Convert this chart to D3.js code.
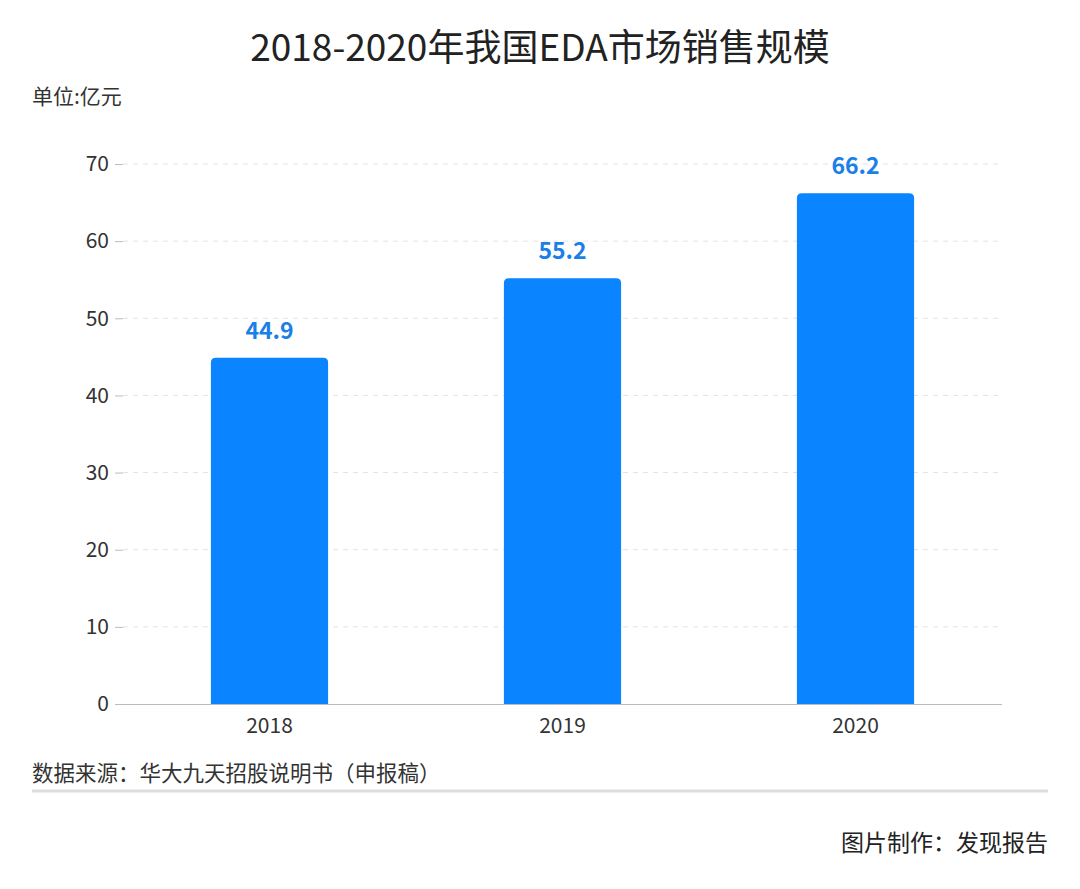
<!DOCTYPE html>
<html><head><meta charset="utf-8">
<script src="https://cdn.jsdelivr.net/npm/d3@7"></script>
<style>body{margin:0;background:#fff;font-family:"Noto Sans CJK SC","Noto Sans",sans-serif;}</style>
</head><body>
<svg id="c" width="1080" height="889"></svg>
<script>
var years = ["2018", "2019", "2020"];
var sales = [44.9, 55.2, 66.2];
var yTicks = [0, 10, 20, 30, 40, 50, 60, 70];

var svg = d3.select("#c");
var x = d3.scaleBand().domain(years).range([123, 1002]).paddingInner(0.6).paddingOuter(0.3);
var y = d3.scaleLinear().domain([0, 70]).range([704, 164]);

svg.append("text").attr("x", 540).attr("y", 61).attr("text-anchor", "middle")
  .attr("font-size", 37).attr("fill", "#222").text("2018-2020年我国EDA市场销售规模");
svg.append("text").attr("x", 32).attr("y", 104).attr("font-size", 21).attr("fill", "#333").text("单位:亿元");

svg.selectAll(".grid").data(yTicks.slice(1)).enter().append("line")
  .attr("x1", 123).attr("x2", 1002).attr("y1", d => y(d)).attr("y2", d => y(d))
  .attr("stroke", "#e3e3e3").attr("stroke-dasharray", "5,5");

var ya = svg.append("g").attr("transform", "translate(123,0)")
  .call(d3.axisLeft(y).tickValues(yTicks).tickSize(8).tickPadding(6));
ya.select(".domain").remove();
ya.selectAll("line").attr("stroke", "#bbb");
ya.selectAll("text").attr("font-size", 21).attr("fill", "#333").attr("font-family", "Noto Sans CJK SC");

var xa = svg.append("g").attr("transform", "translate(0,704)")
  .call(d3.axisBottom(x).tickSize(0).tickPadding(14));
xa.select(".domain").attr("stroke", "#bbb").attr("d", "M115,0.5H1002");
xa.selectAll("text").attr("font-size", 21).attr("fill", "#333").attr("font-family", "Noto Sans CJK SC");

var r = 5;
svg.selectAll(".bar").data(years).enter().append("path")
  .attr("fill", "#0a84ff")
  .attr("d", (d, i) => {
    var x0 = x(d), w = x.bandwidth(), t = y(sales[i]), b = y(0);
    return "M" + x0 + "," + b + "V" + (t + r) + "Q" + x0 + "," + t + " " + (x0 + r) + "," + t +
      "H" + (x0 + w - r) + "Q" + (x0 + w) + "," + t + " " + (x0 + w) + "," + (t + r) + "V" + b + "Z";
  });

svg.selectAll(".lbl").data(years).enter().append("text")
  .attr("x", d => x(d) + x.bandwidth() / 2).attr("y", (d, i) => y(sales[i]) - 19)
  .attr("text-anchor", "middle").attr("font-size", 23).attr("font-weight", "bold")
  .attr("fill", "#1a7fe6").text((d, i) => sales[i]);

svg.append("text").attr("x", 32).attr("y", 781).attr("font-size", 21.5).attr("fill", "#333")
  .text("数据来源：华大九天招股说明书（申报稿）");
svg.append("line").attr("x1", 32).attr("x2", 1048).attr("y1", 791).attr("y2", 791)
  .attr("stroke", "#ddd").attr("stroke-width", 3);
svg.append("text").attr("x", 1048).attr("y", 851).attr("text-anchor", "end").attr("font-size", 23).attr("fill", "#222")
  .text("图片制作：发现报告");
</script>
</body></html>
